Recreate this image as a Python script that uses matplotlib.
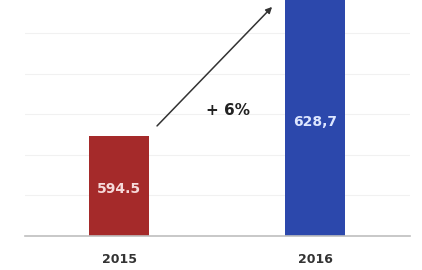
import matplotlib
matplotlib.use("Agg")
import matplotlib.pyplot as plt

years = ["2015", "2016"]
values = [594.5, 628.7]
value_labels = ["594.5", "628,7"]
bar_colors = ["#A52A2A", "#2C48AC"]
label_colors = ["#F6D9D9", "#DDE6FF"]
growth_label = "+ 6%"

fig = plt.figure(figsize=(4.22, 2.70), dpi=100)
W, H = 422, 270
ax = fig.add_axes([25 / W, (H - 236) / H, 385 / W, 236 / H])

x = list(range(len(years)))
ax.bar(x, values, width=0.306, color=bar_colors, zorder=2)
ax.set_xlim(-0.4796, 1.4847)
ax.set_ylim(570, 628.1)

for g in [580, 590, 600, 610, 620]:
    ax.axhline(g, color="#f1f1f1", lw=0.8, zorder=0)

label_y = [581.6, 598.1]
for xi, lab, yy, c in zip(x, value_labels, label_y, label_colors):
    ax.text(xi, yy, lab, ha="center", va="center", fontsize=10,
            fontweight="bold", color=c, zorder=3)

ax.annotate("", xy=(0.781, 626.4), xytext=(0.194, 597.1),
            arrowprops=dict(arrowstyle="-|>", color="#333333", lw=1.1,
                            mutation_scale=9, shrinkA=0, shrinkB=0),
            annotation_clip=False, zorder=4)
ax.text(0.556, 601.0, growth_label, ha="center", va="center",
        fontsize=11, fontweight="bold", color="#222222")

for s in ["top", "right", "left"]:
    ax.spines[s].set_visible(False)
ax.spines["bottom"].set_color("#bfbfbf")
ax.spines["bottom"].set_linewidth(1.2)
ax.set_yticks([])
ax.set_xticks(x)
ax.set_xticklabels(years, fontsize=9, fontweight="bold", color="#333333")
ax.tick_params(axis="x", length=0, pad=12)

fig.savefig("out.png", dpi=100)
